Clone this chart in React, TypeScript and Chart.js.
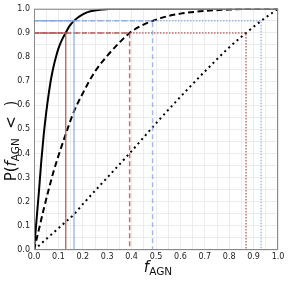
import React, { useEffect, useRef } from "react";
import { Chart, registerables } from "chart.js";

Chart.register(...registerables);

// CDF curves
const solidX = [0, 0.01, 0.02, 0.03, 0.04, 0.05, 0.06, 0.07, 0.08, 0.09, 0.1, 0.115, 0.13, 0.145, 0.164, 0.18, 0.2, 0.22, 0.25, 0.28, 0.32, 0.4, 1.0];
const solidY = [0, 0.12, 0.24, 0.37, 0.48, 0.57, 0.645, 0.71, 0.76, 0.8, 0.835, 0.872, 0.9, 0.928, 0.95, 0.964, 0.977, 0.986, 0.993, 0.997, 1.0, 1.0, 1.0];

const dashedX = [0, 0.02, 0.04, 0.06, 0.08, 0.1, 0.13, 0.16, 0.2, 0.25, 0.3, 0.35, 0.392, 0.44, 0.486, 0.55, 0.6, 0.7, 0.8, 0.9, 1.0];
const dashedY = [0, 0.085, 0.17, 0.25, 0.325, 0.39, 0.48, 0.565, 0.65, 0.74, 0.805, 0.86, 0.9, 0.93, 0.95, 0.97, 0.98, 0.991, 0.997, 1.0, 1.0];

const dottedX = [0, 0.05, 0.1, 0.13, 0.164, 0.2, 0.3, 0.4, 0.5, 0.6, 0.7, 0.8, 0.869, 0.931, 1.0];
const dottedY = [0, 0.045, 0.09, 0.117, 0.148, 0.19, 0.3, 0.41, 0.525, 0.635, 0.74, 0.84, 0.9, 0.95, 1.0];

// probability levels and where each curve reaches them
const levels = [0.9, 0.95];
const solidCross = [0.13, 0.164];
const dashedCross = [0.392, 0.486];
const dottedCross = [0.869, 0.931];

const tickValues = [0, 0.1, 0.2, 0.3, 0.4, 0.5, 0.6, 0.7, 0.8, 0.9, 1.0];

const RED = "rgba(185,85,85,0.85)";
const BLUE = "rgba(130,165,235,0.75)";

const pts = (xs: number[], ys: number[]) => xs.map((x, i) => ({ x, y: ys[i] }));
const guide = (x: number, y: number) => [
  { x: 0, y },
  { x, y },
  { x, y: 0 },
];

const titlePlugin = {
  id: "titles",
  afterDraw(chart: any) {
    const ctx = chart.ctx as CanvasRenderingContext2D;
    const area = chart.chartArea;
    // frame
    ctx.save();
    ctx.strokeStyle = "#8a8a8a";
    ctx.lineWidth = 1;
    ctx.strokeRect(area.left + 0.5, area.top + 0.5, area.right - area.left - 1, area.bottom - area.top - 1);
    ctx.restore();

    const fam = "'DejaVu Sans'";
    const drawParts = (parts: { t: string; f: string; dy: number }[]) => {
      let w = 0;
      for (const p of parts) {
        ctx.font = p.f;
        w += ctx.measureText(p.t).width;
      }
      let x = -w / 2;
      for (const p of parts) {
        ctx.font = p.f;
        ctx.fillText(p.t, x, p.dy);
        x += ctx.measureText(p.t).width;
      }
    };
    ctx.save();
    ctx.fillStyle = "#111";
    ctx.textBaseline = "alphabetic";
    ctx.textAlign = "left";
    // x title
    ctx.save();
    ctx.translate((area.left + area.right) / 2 + 2, 272);
    drawParts([
      { t: "f", f: `italic 15px ${fam}`, dy: 0 },
      { t: "AGN", f: `10.5px ${fam}`, dy: 3 },
    ]);
    ctx.restore();
    // y title
    ctx.save();
    ctx.translate(16, 141);
    ctx.rotate(-Math.PI / 2);
    drawParts([
      { t: "P(", f: `15px ${fam}`, dy: 0 },
      { t: "f", f: `italic 15px ${fam}`, dy: 0 },
      { t: "AGN", f: `10.5px ${fam}`, dy: 3 },
      { t: "  <  )", f: `15px ${fam}`, dy: 0 },
    ]);
    ctx.restore();
    ctx.restore();
  },
};

export default function App() {
  const ref = useRef<HTMLCanvasElement | null>(null);
  useEffect(() => {
    if (!ref.current) return;
    const lineDs = (data: any[], color: string, width: number, dash: number[]) => ({
      data,
      borderColor: color,
      borderWidth: width,
      borderDash: dash,
      pointRadius: 0,
      showLine: true,
      fill: false,
      tension: 0,
    });
    const curve = (data: any[], dash: number[]) => ({
      ...lineDs(data, "#000", 2, dash),
      cubicInterpolationMode: "monotone",
    });
    const tickCb = (v: any) => {
      const k = Math.round(Number(v) * 20);
      return k % 2 === 0 ? tickValues[k / 2].toFixed(1) : "";
    };
    const allTicks = (s: any) => {
      const t: any[] = [];
      for (let i = 0; i <= 20; i++) t.push({ value: i / 20 });
      s.ticks = t;
    };
    const chart = new Chart(ref.current, {
      type: "scatter",
      data: {
        datasets: [
          lineDs(guide(solidCross[0], levels[0]), RED, 1.5, []),
          lineDs(guide(solidCross[1], levels[1]), BLUE, 1.5, []),
          lineDs(guide(dashedCross[0], levels[0]), RED, 1.5, [5, 3]),
          lineDs(guide(dashedCross[1], levels[1]), BLUE, 1.5, [5, 3]),
          lineDs(guide(dottedCross[0], levels[0]), RED, 1.5, [1.5, 1.5]),
          lineDs(guide(dottedCross[1], levels[1]), BLUE, 1.5, [1.5, 1.5]),
          curve(pts(dottedX, dottedY), [2, 3.5]),
          curve(pts(dashedX, dashedY), [6, 3.5]),
          curve(pts(solidX, solidY), []),
        ] as any,
      },
      options: {
        responsive: false,
        animation: false,
        layout: { padding: { left: 0, top: 7, right: 15, bottom: 0 } },
        plugins: { legend: { display: false }, tooltip: { enabled: false } },
        scales: {
          x: {
            type: "linear",
            min: 0,
            max: 1,
            afterFit: (s: any) => {
              s.height = 35;
            },
            afterBuildTicks: allTicks,
            grid: { color: "#ececec", lineWidth: 1, drawTicks: false },
            border: { display: false },
            ticks: {
              padding: 2,
              color: "#222",
              font: { family: "'DejaVu Sans'", size: 8 },
              maxRotation: 0,
              autoSkip: false,
              callback: tickCb,
            },
          },
          y: {
            type: "linear",
            min: 0,
            max: 1,
            afterFit: (s: any) => {
              s.width = 34;
            },
            afterBuildTicks: allTicks,
            grid: { color: "#ececec", lineWidth: 1, drawTicks: false },
            border: { display: false },
            ticks: {
              padding: 4,
              color: "#222",
              font: { family: "'DejaVu Sans'", size: 8 },
              autoSkip: false,
              callback: tickCb,
            },
          },
        },
      } as any,
      plugins: [titlePlugin],
    });
    return () => chart.destroy();
  }, []);
  return (
    <div style={{ position: "fixed", left: 0, top: 0, width: 293, height: 285, background: "#fff" }}>
      <canvas ref={ref} width={293} height={285} style={{ width: 293, height: 285 }} />
    </div>
  );
}
